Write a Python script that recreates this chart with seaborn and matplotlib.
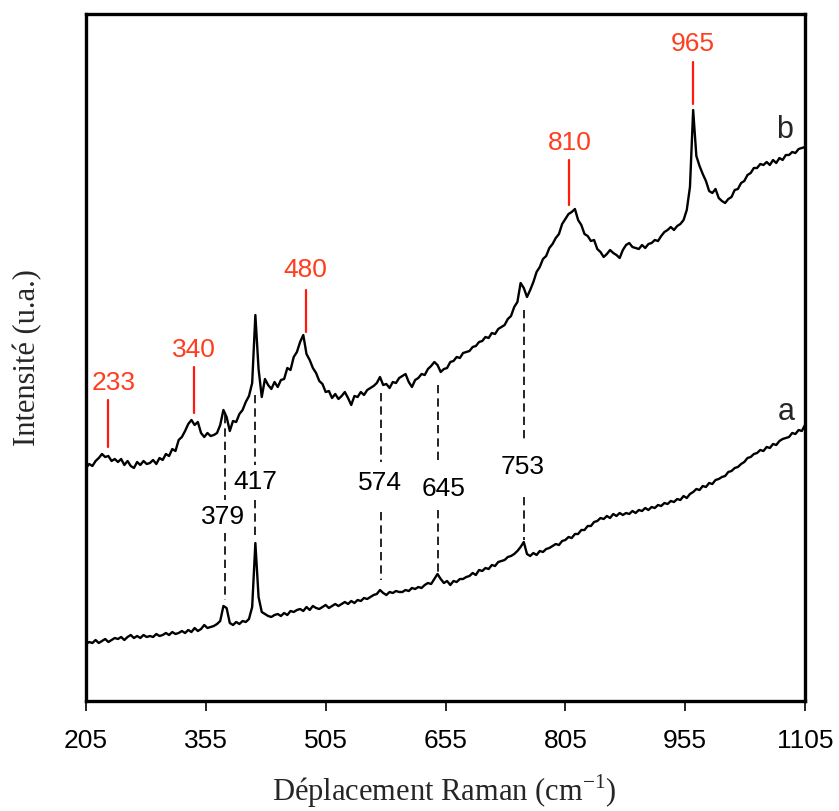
import numpy as np
import pandas as pd
import matplotlib
matplotlib.use("Agg")
import matplotlib.pyplot as plt
import seaborn as sns

# Raman shift grid (cm-1) and the two spectra (arbitrary units)
shift = np.arange(205, 1106, 4)

spectrum_b = [
    233, 237, 235, 240, 243, 247, 244, 245, 240, 242,
    239, 242, 236, 240, 235, 233, 239, 236, 240, 237,
    238, 241, 237, 243, 241, 247, 245, 252, 250, 261,
    264, 270, 277, 281, 276, 279, 268, 264, 268, 265,
    266, 268, 276, 291, 284, 270, 280, 279, 287, 291,
    299, 305, 318, 386, 332, 304, 322, 316, 312, 319,
    314, 321, 322, 333, 331, 344, 349, 359, 366, 347,
    341, 333, 328, 320, 317, 309, 310, 303, 307, 302,
    305, 309, 303, 296, 305, 304, 309, 306, 311, 313,
    315, 318, 324, 316, 317, 313, 319, 318, 323, 325,
    327, 319, 314, 321, 323, 327, 326, 332, 335, 339,
    336, 329, 332, 333, 339, 340, 344, 343, 348, 349,
    350, 354, 355, 359, 360, 364, 363, 368, 367, 372,
    374, 376, 382, 385, 394, 399, 418, 413, 404, 411,
    419, 429, 434, 442, 445, 453, 457, 463, 467, 477,
    482, 487, 489, 492, 481, 476, 467, 465, 460, 461,
    452, 449, 444, 447, 451, 448, 446, 443, 451, 456,
    458, 454, 453, 452, 456, 453, 457, 458, 461, 460,
    465, 469, 471, 474, 471, 475, 477, 481, 491, 514,
    591, 545, 535, 527, 520, 510, 508, 512, 503, 500,
    498, 502, 504, 511, 512, 518, 520, 526, 528, 533,
    533, 537, 536, 539, 536, 541, 538, 543, 541, 546,
    546, 549, 548, 552, 553, 554,
]

spectrum_a = [
    57, 59, 58, 61, 58, 60, 62, 59, 61, 63,
    62, 64, 61, 64, 66, 63, 65, 63, 66, 64,
    65, 64, 67, 65, 66, 68, 66, 69, 67, 68,
    70, 68, 71, 69, 73, 70, 72, 76, 73, 74,
    75, 77, 80, 95, 93, 78, 76, 79, 77, 80,
    79, 82, 94, 158, 104, 89, 87, 85, 84, 86,
    87, 85, 88, 86, 90, 89, 91, 92, 90, 94,
    91, 95, 93, 92, 94, 96, 93, 95, 97, 95,
    97, 99, 97, 100, 98, 101, 100, 103, 102, 104,
    106, 107, 111, 108, 106, 109, 108, 110, 109, 109,
    111, 110, 113, 112, 114, 113, 116, 118, 117, 122,
    127, 122, 118, 120, 116, 120, 119, 122, 122, 124,
    125, 128, 126, 131, 130, 133, 132, 136, 135, 139,
    140, 141, 144, 145, 147, 150, 154, 159, 147, 145,
    148, 146, 150, 149, 152, 153, 155, 157, 156, 160,
    161, 164, 163, 167, 167, 171, 171, 175, 175, 179,
    180, 183, 182, 185, 183, 187, 185, 188, 186, 188,
    187, 190, 188, 191, 190, 193, 191, 194, 193, 196,
    195, 198, 197, 200, 199, 202, 201, 205, 203, 207,
    209, 212, 211, 215, 214, 218, 217, 221, 222, 224,
    225, 229, 230, 233, 234, 237, 239, 243, 244, 247,
    248, 251, 250, 254, 253, 257, 256, 260, 262, 263,
    264, 268, 267, 271, 270, 276,
]

# Bands specific to sample b (red markers)
red_peaks = [233, 340, 480, 810, 965]
red_tick_low = [254, 288, 369, 496, 597]
red_tick_high = [301, 334, 411, 541, 639]
red_text_x = [240, 340, 480, 810, 965]
red_text_y = [318, 351, 431, 558, 657]

# Bands common to both spectra (dashed guides)
common_peaks = [379, 417, 574, 645, 753]
guide_top = [286, 306, 308, 316, 391]
guide_gap_top = [201, 236, 239, 239, 258]
guide_gap_bottom = [168, 201, 189, 191, 204]
guide_bottom = [101, 164, 121, 129, 161]
common_text_x = [376, 417, 573, 652, 751]
common_text_y = [184, 219, 218, 212, 234]

xticks = [205, 355, 505, 655, 805, 955, 1105]

df = pd.DataFrame({"shift": shift, "a": spectrum_a, "b": spectrum_b})

sns.set_style("ticks")
plt.rcParams["font.family"] = ["Liberation Sans", "DejaVu Sans"]

fig = plt.figure(figsize=(8.39, 8.11), dpi=100)
ax = fig.add_axes([86 / 839, 1 - 701 / 811, 719 / 839, 687 / 811])

sns.lineplot(data=df, x="shift", y="b", color="black", lw=1.7, ax=ax)
sns.lineplot(data=df, x="shift", y="a", color="black", lw=1.7, ax=ax)

num_font = dict(fontsize=19, family=["Liberation Sans", "DejaVu Sans"])
dash = (0, (5, 3))

for x0, lo, hi, tx, ty in zip(red_peaks, red_tick_low, red_tick_high,
                              red_text_x, red_text_y):
    ax.plot([x0, x0], [lo, hi], color="#ff1a0a", lw=1.6)
    ax.text(tx, ty, str(x0), color="#ff3d1f", ha="center", va="center", **num_font)

for x0, t, gt, gb, b, tx, ty in zip(common_peaks, guide_top, guide_gap_top,
                                    guide_gap_bottom, guide_bottom,
                                    common_text_x, common_text_y):
    ax.plot([x0, x0], [t, gt], color="black", lw=1.2, ls=dash)
    ax.plot([x0, x0], [gb, b], color="black", lw=1.2, ls=dash)
    ax.text(tx, ty, str(x0), color="black", ha="center", va="center", **num_font)

ax.text(1079, 571, "b", ha="center", va="center", fontsize=22)
ax.text(1081, 289, "a", ha="center", va="center", fontsize=22)

ax.set_xlim(205, 1105)
ax.set_ylim(0, 687)
ax.set_xticks(xticks)
ax.set_xticklabels([str(t) for t in xticks])
ax.set_yticks([])
ax.tick_params(axis="x", direction="out", length=7, width=1.2,
               labelsize=19, pad=13, colors="black")

for sp in ax.spines.values():
    sp.set_visible(True)
    sp.set_linewidth(2.4)
    sp.set_color("black")

serif = ["Liberation Serif", "DejaVu Serif"]
ax.set_xlabel("Déplacement Raman (cm$^{\\mathregular{-1}}$)", fontsize=22,
              family=serif)
ax.set_ylabel("Intensité (u.a.)", fontsize=22, family=serif)
ax.xaxis.set_label_coords(0.498, -0.146)
ax.xaxis.label.set_va("baseline")
ax.yaxis.set_label_coords(-0.081, 0.5)
ax.yaxis.label.set_va("center")

fig.savefig("out.png", dpi=100)
